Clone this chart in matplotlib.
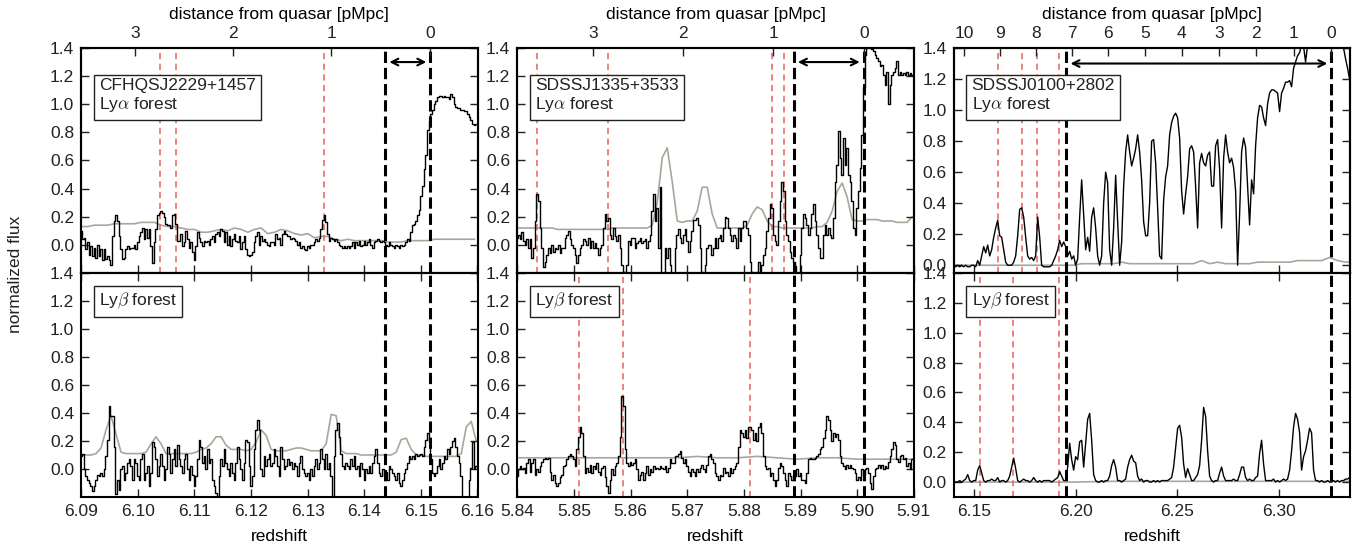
import numpy as np
import matplotlib.pyplot as plt

plt.rcParams['font.family'] = ['Liberation Sans', 'DejaVu Sans']
plt.rcParams['mathtext.fontset'] = 'cm'
plt.rcParams['font.size'] = 12
plt.rcParams['text.color'] = '#222222'
plt.rcParams['xtick.color'] = '#222222'
plt.rcParams['ytick.color'] = '#222222'

# ---------------- data (flux sampled on a uniform redshift grid) ----------------
names = ['CFHQSJ2229+1457', 'SDSSJ1335+3533', 'SDSSJ0100+2802']
z_qso = [6.1517, 5.9012, 6.3258]
z_edge = [6.1437, 5.8888, 6.1954]      # start of the near zone (left dashed line)
xlims = [(6.09, 6.16), (5.84, 5.91), (6.14, 6.335)]
xticks = [[6.09, 6.10, 6.11, 6.12, 6.13, 6.14, 6.15, 6.16],
          [5.84, 5.85, 5.86, 5.87, 5.88, 5.89, 5.90, 5.91],
          [6.15, 6.20, 6.25, 6.30]]
dist_ticks = [[0, 1, 2, 3], [0, 1, 2, 3], [0, 1, 2, 3, 4, 5, 6, 7, 8, 9, 10]]
ylims_top = [(-0.2, 1.4), (-0.2, 1.4), (-0.05, 1.4)]
ylims_bot = [(-0.2, 1.4), (-0.2, 1.4), (-0.1, 1.4)]
steps = ['steps-mid', 'steps-mid', 'default']

# red marked redshifts
red_top = [[6.1040, 6.1067, 6.1329],
           [5.8435, 5.8560, 5.8850, 5.8870],
           [6.1620, 6.1734, 6.1810, 6.1918]]
red_bot = [[],
           [5.8509, 5.8586, 5.8810],
           [6.1529, 6.1690, 6.1918]]

# column 1 : CFHQSJ2229+1457
lya1_range = (6.09, 6.15978)
lya1_flux = [
    0.10, 0.04, 0.05, -0.03, 0.02, -0.07, -0.01, -0.08, -0.02, -0.09, 0.00, -0.08, -0.03, -0.11, -0.03, -0.10, -0.08, -0.11,
    -0.14, 0.06, 0.17, 0.21, 0.17, 0.06, -0.03, -0.10, -0.09, -0.03, -0.01, -0.03, -0.02, -0.02, 0.00, -0.03, 0.02, 0.06, 0.09, 0.12, 0.04, 0.11,
    0.05, 0.11, -0.01, -0.13, 0.02, 0.11, 0.21, 0.23, 0.24, 0.23, 0.20, 0.15, 0.14, 0.14, 0.12, 0.21, 0.22, 0.15, 0.03, 0.03,
    0.08, -0.01, 0.02, 0.10, 0.04, -0.02, 0.02, -0.05, -0.11, -0.01, 0.09, 0.05, 0.02, -0.01, 0.03, 0.02, 0.03, 0.00, 0.04, 0.06,
    0.02, 0.08, 0.09, 0.06, 0.11, 0.10, 0.02, 0.09, 0.00, 0.06, -0.01, 0.04, 0.08, 0.03, 0.02, 0.06, -0.03, 0.02, 0.06, -0.03,
    -0.07, -0.08, -0.07, -0.05, 0.02, 0.06, 0.09, 0.00, 0.06, 0.03, 0.04, 0.02, 0.00, -0.01, 0.02, 0.02, 0.00, 0.08, 0.04, 0.05,
    0.00, 0.08, 0.10, 0.08, 0.06, 0.06, 0.04, 0.05, 0.04, 0.03, 0.00, 0.02, -0.02, -0.01, -0.03, -0.04, -0.01, -0.02, 0.00, 0.00,
    0.02, 0.04, 0.03, 0.05, 0.11, 0.18, 0.21, 0.16, 0.08, 0.03, 0.05, 0.04, 0.03, 0.04, 0.02, 0.00, -0.01, -0.02, -0.01, -0.02,
    -0.01, -0.02, -0.01, 0.02, -0.02, 0.02, 0.00, 0.03, -0.01, 0.00, 0.03, 0.00, 0.02, 0.04, 0.00, -0.02, 0.02, 0.03, 0.04, 0.03,
    0.02, 0.03, 0.02, 0.00, -0.01, 0.02, 0.00, -0.01, -0.02, 0.00, -0.01, -0.02, 0.00, -0.01, 0.00, 0.02, 0.04, 0.03, 0.09, 0.14,
    0.15, 0.17, 0.21, 0.25, 0.35, 0.42, 0.54, 0.64, 0.82, 0.88, 0.93, 0.96, 1.00, 1.02, 1.05, 1.06, 1.06, 1.05, 1.06, 1.05,
    1.05, 1.04, 1.07, 1.05, 1.00, 0.98, 0.97, 0.97, 0.96, 0.96, 0.95, 0.95, 0.93, 0.91, 0.89, 0.86, 0.85, 0.86]
lya1_err_range = (6.09, 6.15948)
lya1_err = [0.13, 0.13, 0.14, 0.14, 0.14, 0.15, 0.15, 0.15, 0.15, 0.16, 0.16, 0.16, 0.14, 0.13, 0.13,
            0.12, 0.11, 0.11, 0.09, 0.09, 0.10, 0.11, 0.10, 0.12, 0.11, 0.09, 0.11, 0.12, 0.08, 0.09,
            0.11, 0.10, 0.08, 0.07, 0.08, 0.05, 0.06, 0.06, 0.04, 0.03, 0.04, 0.03, 0.03, 0.03, 0.03,
            0.03, 0.02, 0.02, 0.02, 0.03, 0.03, 0.03, 0.03, 0.04, 0.04, 0.04, 0.04, 0.04, 0.04, 0.04]
lyb1_range = (6.09, 6.15978)
lyb1_flux = [
    0.09, 0.11, 0.00, -0.05, -0.08, -0.10, -0.12, -0.16, -0.12, -0.08, -0.04, -0.05, -0.03, -0.05, 0.00, 0.09, 0.21, 0.45, 0.38, 0.38,
    0.16, -0.18, -0.08, -0.15, 0.00, 0.02, -0.08, -0.03, 0.04, 0.07, 0.02, -0.08, 0.07, 0.04, -0.05, -0.08, 0.07, 0.11, -0.08, -0.03,
    0.02, -0.12, -0.03, 0.19, 0.16, 0.07, -0.05, 0.02, 0.11, 0.02, -0.08, 0.00, 0.16, 0.11, -0.03, 0.07, 0.14, 0.02, 0.17, 0.07,
    0.02, -0.03, 0.07, 0.11, 0.00, -0.08, 0.02, -0.04, -0.12, -0.05, 0.07, 0.21, 0.16, 0.04, 0.09, 0.00, 0.14, 0.04, 0.07, -0.08,
    -0.12, -0.17, -0.20, -0.05, 0.07, 0.02, 0.14, 0.04, 0.00, -0.05, 0.04, -0.03, -0.08, 0.04, 0.16, 0.07, 0.00, -0.08, 0.04, 0.21,
    0.19, 0.02, -0.12, -0.05, 0.14, 0.28, 0.35, 0.28, 0.00, -0.05, 0.09, 0.02, 0.07, 0.11, 0.02, 0.04, 0.14, 0.09, 0.02, -0.05,
    0.16, 0.07, 0.00, 0.02, 0.07, 0.03, 0.05, 0.00, 0.04, 0.02, -0.05, 0.04, 0.09, 0.00, -0.03, -0.05, -0.03, -0.08, 0.00, -0.05,
    0.02, 0.07, 0.00, 0.04, 0.14, 0.07, 0.00, 0.11, 0.00, 0.04, -0.05, -0.20, 0.09, 0.28, 0.33, 0.23, 0.11, 0.02, 0.00, 0.04,
    0.02, 0.00, 0.07, 0.02, 0.09, 0.00, 0.02, -0.05, 0.04, 0.00, -0.08, 0.00, -0.03, 0.02, -0.03, 0.04, 0.09, 0.14, 0.04, -0.03,
    -0.05, 0.00, -0.05, -0.02, -0.08, 0.02, 0.00, -0.03, -0.05, -0.08, -0.03, -0.10, -0.12, -0.08, -0.03, 0.00, 0.04, 0.09, 0.07, 0.09,
    0.07, 0.11, 0.09, 0.10, 0.11, 0.09, 0.16, 0.21, 0.26, 0.19, 0.07, -0.03, -0.05, -0.03, 0.02, 0.07, 0.00, 0.04, 0.09, 0.07,
    0.14, 0.11, 0.16, 0.20, 0.22, 0.16, 0.09, 0.04, -0.05, -0.20, -0.20, -0.20, -0.20, -0.08, 0.01, 0.19, 0.00, 0.02]
lyb1_err_range = (6.09, 6.15978)
lyb1_err = [0.10, 0.10, 0.10, 0.11, 0.15, 0.28, 0.38, 0.25, 0.12, 0.11, 0.11, 0.11, 0.11, 0.12, 0.18, 0.23,
            0.18, 0.11, 0.11, 0.11, 0.11, 0.11, 0.11, 0.12, 0.14, 0.15, 0.18, 0.23, 0.23, 0.17, 0.14, 0.14,
            0.14, 0.13, 0.14, 0.19, 0.28, 0.24, 0.14, 0.13, 0.13, 0.13, 0.14, 0.15, 0.15, 0.14, 0.13, 0.13,
            0.13, 0.18, 0.39, 0.38, 0.13, 0.11, 0.11, 0.11, 0.10, 0.10, 0.10, 0.10, 0.10, 0.10, 0.10, 0.12,
            0.21, 0.22, 0.14, 0.10, 0.10, 0.09, 0.09, 0.09, 0.09, 0.09, 0.09, 0.09, 0.11, 0.30, 0.34, 0.20]

# column 2 : SDSSJ1335+3533
lya2_range = (5.84, 5.91)
lya2_flux = [
    0.05, 0.07, 0.04, 0.09, 0.03, 0.00, 0.04, -0.02, 0.04, -0.09, -0.02, 0.17, 0.36, 0.31, 0.12, -0.02, -0.16, -0.12, -0.07, -0.02,
    -0.06, 0.00, -0.05, -0.02, -0.03, 0.00, -0.06, -0.02, -0.02, 0.05, 0.07, 0.10, 0.04, 0.00, -0.02, -0.07, -0.13, -0.07, -0.02, 0.00,
    0.04, 0.03, 0.00, 0.05, -0.02, 0.03, -0.02, 0.01, -0.02, -0.07, -0.02, 0.00, 0.12, 0.22, 0.17, 0.19, 0.07, 0.04, 0.12, 0.06,
    0.03, 0.07, -0.02, -0.14, -0.19, -0.21, -0.14, 0.03, 0.00, 0.05, 0.05, -0.02, 0.01, 0.03, 0.05, 0.01, 0.03, 0.04, -0.02, 0.03,
    0.07, 0.24, 0.36, 0.17, 0.26, -0.02, 0.41, -0.21, -0.21, -0.02, -0.09, -0.02, -0.14, -0.21, -0.21, -0.02, 0.07, 0.11, 0.05, 0.01,
    0.07, 0.11, 0.03, -0.05, 0.03, 0.10, 0.18, 0.18, 0.19, 0.14, -0.02, -0.19, -0.21, -0.14, -0.02, 0.00, 0.00, -0.07, -0.02, 0.05,
    -0.02, 0.05, 0.07, 0.03, 0.12, 0.20, 0.19, 0.12, 0.07, 0.03, 0.07, 0.05, -0.02, 0.12, 0.03, 0.12, 0.17, 0.17, 0.12, 0.07,
    -0.12, -0.19, -0.21, -0.21, -0.19, -0.12, -0.21, -0.14, -0.07, -0.02, 0.10, 0.19, 0.29, 0.26, 0.07, 0.03, 0.00, 0.17, 0.31, 0.45,
    0.38, 0.17, 0.07, 0.03, -0.05, -0.09, -0.12, -0.15, -0.21, -0.21, -0.07, 0.12, 0.22, 0.19, 0.14, 0.07, 0.12, 0.22, 0.29, 0.17,
    0.07, -0.02, -0.09, -0.09, 0.07, 0.14, 0.07, 0.12, 0.07, 0.05, 0.19, 0.45, 0.57, 0.81, 0.62, 0.50, 0.76, 0.57, 0.69, 0.50,
    0.45, 0.31, 0.12, 0.07, 0.26, 0.38, 0.55, 0.78, 1.12, 1.35, 1.40, 1.42, 1.40, 1.39, 1.38, 1.35, 1.33, 1.31, 1.27, 1.28,
    1.21, 1.14, 1.23, 1.00, 1.14, 1.21, 1.23, 1.26, 1.31, 1.21, 1.23, 1.21, 1.22, 1.21, 1.23, 1.21, 1.22, 1.21, 1.21]
lya2_err_range = (5.84, 5.9097)
lya2_err = [0.12, 0.12, 0.12, 0.12, 0.12, 0.12, 0.12, 0.12, 0.11, 0.11, 0.11, 0.11, 0.11, 0.11, 0.11, 0.11,
            0.11, 0.11, 0.11, 0.12, 0.12, 0.12, 0.12, 0.12, 0.12, 0.12, 0.12, 0.14, 0.30, 0.62, 0.69, 0.45,
            0.17, 0.16, 0.17, 0.17, 0.24, 0.41, 0.41, 0.22, 0.12, 0.12, 0.12, 0.12, 0.12, 0.12, 0.14, 0.22,
            0.27, 0.25, 0.17, 0.13, 0.13, 0.12, 0.12, 0.12, 0.12, 0.12, 0.12, 0.12, 0.13, 0.13, 0.16, 0.24,
            0.38, 0.44, 0.34, 0.18, 0.17, 0.17, 0.18, 0.18, 0.18, 0.17, 0.17, 0.17, 0.16, 0.16, 0.16, 0.20]
lyb2_range = (5.84, 5.91)
lyb2_flux = [
    -0.05, 0.00, 0.02, 0.00, 0.01, -0.03, 0.04, 0.07, -0.02, 0.04, 0.07, -0.04, 0.00, -0.02, 0.02, 0.05, 0.07, 0.08, 0.07, 0.08,
    -0.02, -0.08, -0.04, -0.10, -0.12, -0.10, -0.06, -0.04, 0.02, 0.03, 0.07, 0.09, 0.11, 0.09, 0.07, 0.02, 0.14, 0.23, 0.30, 0.26,
    0.09, -0.03, 0.01, -0.02, 0.03, -0.03, 0.02, 0.00, 0.04, -0.02, -0.04, 0.01, 0.02, -0.06, -0.12, -0.17, -0.08, 0.00, -0.04, 0.02,
    0.04, 0.09, 0.23, 0.52, 0.45, 0.14, 0.04, 0.02, 0.05, 0.03, 0.04, 0.07, 0.00, -0.08, -0.04, -0.02, -0.08, -0.03, 0.02, -0.04,
    0.00, -0.02, 0.02, 0.00, 0.01, 0.00, 0.02, 0.01, 0.00, 0.02, -0.02, 0.01, 0.07, 0.04, 0.04, 0.09, 0.09, 0.11, 0.13, 0.08,
    0.04, 0.07, 0.02, -0.02, -0.05, 0.00, -0.02, -0.05, 0.00, -0.02, 0.01, 0.03, 0.00, -0.02, 0.03, 0.09, 0.11, 0.07, 0.04, -0.03,
    -0.05, -0.08, -0.04, -0.05, 0.01, -0.03, -0.02, -0.05, 0.01, -0.03, 0.00, 0.02, 0.04, 0.16, 0.28, 0.26, 0.23, 0.28, 0.22, 0.30,
    0.30, 0.28, 0.21, 0.26, 0.20, 0.30, 0.33, 0.26, 0.09, 0.02, 0.00, 0.01, -0.05, -0.03, -0.08, -0.12, -0.08, 0.01, 0.04, 0.02,
    -0.03, -0.08, -0.12, -0.03, -0.05, -0.08, -0.04, -0.05, 0.00, -0.05, -0.03, -0.08, -0.08, -0.10, -0.03, 0.07, 0.08, 0.07, 0.07, 0.08,
    0.09, 0.11, 0.14, 0.16, 0.22, 0.28, 0.38, 0.35, 0.28, 0.20, 0.26, 0.23, 0.25, 0.21, 0.09, 0.04, 0.02, 0.00, 0.03, 0.01,
    0.03, 0.01, 0.00, -0.03, -0.08, -0.06, -0.08, 0.00, -0.04, 0.00, 0.01, -0.03, -0.10, -0.14, -0.05, 0.00, 0.01, 0.03, 0.01, 0.03,
    0.00, 0.02, 0.01, 0.05, 0.09, 0.14, 0.19, 0.17, 0.07, 0.05, 0.09, 0.10, 0.07, 0.08, 0.02, 0.04, 0.00, 0.07, 0.08]
lyb2_err_range = (5.84, 5.91058)
lyb2_err = [0.08, 0.08, 0.08, 0.08, 0.08, 0.08, 0.08, 0.08, 0.08, 0.09, 0.08,
            0.08, 0.09, 0.08, 0.07, 0.08, 0.08, 0.07, 0.07, 0.07, 0.07]

# column 3 : SDSSJ0100+2802
lya3_range = (6.14, 6.33469)
lya3_flux = [
    0.00, -0.01, 0.00, -0.01, 0.00, -0.01, 0.00, -0.01, -0.01, 0.00, 0.00, -0.01, 0.03, 0.00, 0.06, 0.12, 0.08, 0.13, 0.06, 0.10,
    0.18, 0.24, 0.29, 0.19, 0.18, 0.10, 0.02, 0.00, 0.00, 0.00, 0.02, 0.06, 0.19, 0.36, 0.37, 0.31, 0.18, 0.06, 0.04, 0.05,
    0.03, 0.06, 0.31, 0.18, 0.00, -0.01, -0.01, -0.01, -0.01, 0.00, 0.03, 0.06, 0.10, 0.16, 0.12, 0.15, 0.12, 0.06, 0.09, 0.04,
    0.06, 0.00, 0.04, 0.31, 0.55, 0.33, 0.10, 0.18, 0.09, 0.31, 0.37, 0.24, 0.06, 0.00, 0.06, 0.40, 0.60, 0.53, 0.10, 0.00,
    0.24, 0.58, 0.28, 0.00, 0.15, 0.51, 0.73, 0.84, 0.73, 0.64, 0.69, 0.75, 0.84, 0.73, 0.55, 0.28, 0.19, 0.19, 0.40, 0.80,
    0.81, 0.66, 0.37, 0.06, 0.04, 0.42, 0.57, 0.64, 0.84, 0.92, 0.96, 0.98, 0.95, 0.82, 0.48, 0.33, 0.46, 0.57, 0.75, 0.77,
    0.73, 0.51, 0.24, 0.66, 0.72, 0.66, 0.64, 0.71, 0.73, 0.51, 0.51, 0.77, 0.81, 0.62, 0.24, 0.69, 0.84, 0.73, 0.66, 0.69,
    0.63, 0.48, 0.00, 0.33, 0.73, 0.82, 0.76, 0.51, 0.26, 0.55, 0.46, 0.77, 0.95, 1.03, 1.02, 0.95, 0.90, 1.04, 1.11, 1.13,
    1.13, 1.12, 1.11, 0.99, 1.11, 1.14, 1.18, 1.18, 1.19, 1.15, 1.27, 1.31, 1.35, 1.37, 1.42, 1.41, 1.31, 1.42, 1.44, 1.50,
    1.50, 1.50, 1.50, 1.50, 1.50, 1.50, 1.50, 1.50, 1.50, 1.50, 1.50, 1.45, 1.45, 1.44, 1.42, 1.40, 1.33, 1.27, 1.20]
lya3_err_range = (6.14, 6.33666)
lya3_err = [0.00, 0.00, 0.00, 0.00, 0.00, 0.00, 0.00, 0.00, 0.00, 0.00, 0.00, 0.00, 0.00, 0.00, 0.00, 0.00,
            0.01, 0.01, 0.01, 0.01, 0.01, 0.02, 0.01, 0.01, 0.01, 0.01, 0.01, 0.01, 0.01, 0.01, 0.01, 0.03,
            0.01, 0.02, 0.01, 0.01, 0.01, 0.01, 0.02, 0.02, 0.02, 0.02, 0.02, 0.03, 0.03, 0.03, 0.03, 0.05,
            0.03, 0.02, 0.02]
lyb3_range = (6.14, 6.33469)
lyb3_flux = [
    0.00, 0.00, 0.00, 0.01, 0.00, 0.01, 0.02, 0.05, 0.01, 0.00, 0.01, 0.01, 0.08, 0.11, 0.06, 0.01, 0.00, 0.01, 0.01, 0.02,
    0.01, 0.01, 0.03, 0.00, 0.01, 0.01, 0.00, 0.01, 0.04, 0.10, 0.16, 0.09, 0.01, 0.00, 0.01, 0.02, 0.01, 0.01, 0.00, 0.01,
    0.03, 0.01, 0.00, 0.01, 0.00, 0.01, 0.01, 0.01, 0.01, 0.00, 0.01, 0.02, 0.03, 0.07, 0.04, 0.01, 0.01, 0.10, 0.26, 0.15,
    0.08, 0.17, 0.15, 0.27, 0.28, 0.10, 0.26, 0.42, 0.46, 0.28, 0.05, 0.01, 0.00, 0.00, 0.01, 0.00, 0.01, 0.01, 0.04, 0.11,
    0.15, 0.10, 0.01, 0.01, 0.00, 0.01, 0.02, 0.10, 0.15, 0.18, 0.14, 0.13, 0.04, 0.01, 0.02, 0.00, 0.01, 0.01, 0.00, 0.00,
    0.01, 0.00, 0.01, 0.00, 0.01, 0.01, 0.01, 0.01, 0.02, 0.03, 0.10, 0.23, 0.36, 0.38, 0.30, 0.12, 0.03, 0.09, 0.05, 0.01,
    0.01, 0.03, 0.05, 0.11, 0.28, 0.50, 0.44, 0.21, 0.04, 0.01, 0.00, 0.01, 0.01, 0.06, 0.10, 0.04, 0.01, 0.01, 0.01, 0.01,
    0.02, 0.01, 0.01, 0.05, 0.10, 0.10, 0.03, 0.01, 0.02, 0.01, 0.01, 0.03, 0.04, 0.19, 0.28, 0.12, 0.01, 0.01, 0.01, 0.01,
    0.02, 0.00, 0.01, 0.00, 0.01, 0.02, 0.01, 0.02, 0.08, 0.21, 0.37, 0.46, 0.42, 0.33, 0.08, 0.17, 0.21, 0.28, 0.36, 0.33,
    0.08, 0.01, 0.01, 0.00, 0.01, 0.00, 0.00, 0.01, 0.00, 0.00, 0.01, 0.00, 0.01, 0.00, 0.01, 0.01, 0.02, 0.02, 0.03]
lyb3_err_range = (6.14, 6.33666)
lyb3_err = [0.00, 0.00, 0.00, 0.00, 0.005, 0.005, 0.005, 0.005, 0.005, 0.005, 0.005]

top_data = [(lya1_range, lya1_flux, lya1_err_range, lya1_err),
            (lya2_range, lya2_flux, lya2_err_range, lya2_err),
            (lya3_range, lya3_flux, lya3_err_range, lya3_err)]
bot_data = [(lyb1_range, lyb1_flux, lyb1_err_range, lyb1_err),
            (lyb2_range, lyb2_flux, lyb2_err_range, lyb2_err),
            (lyb3_range, lyb3_flux, lyb3_err_range, lyb3_err)]

# ---------------- helpers ----------------
H0, Om, c_kms = 70.0, 0.3, 299792.458


def z_of_distance(zq, dists):
    # proper line-of-sight distance (pMpc) from the quasar -> redshift
    zz = np.linspace(zq, zq - 0.3, 3001)
    integrand = c_kms / ((1 + zz) * H0 * np.sqrt(Om * (1 + zz) ** 3 + 1 - Om))
    d = np.concatenate([[0.0], np.cumsum(0.5 * (integrand[1:] + integrand[:-1]) * np.abs(np.diff(zz)))])
    return np.interp(dists, d, zz)


def draw(ax, data, reds, zq, ze, ds):
    (z0, z1), flux, (e0, e1), err = data
    ax.plot(np.linspace(e0, e1, len(err)), err, color='#a9a699', lw=1.2, zorder=1)
    ax.plot(np.linspace(z0, z1, len(flux)), flux, color='k', lw=1.0, drawstyle=ds, zorder=2)
    for zr in reds:
        ax.axvline(zr, color='#e8605a', lw=1.1, dashes=(4, 3), zorder=1.5)
    for zl in (ze, zq):
        ax.axvline(zl, color='k', lw=2.2, ls='--', zorder=3)


def style(ax):
    for s in ax.spines.values():
        s.set_linewidth(1.5)
    ax.tick_params(direction='in', length=6, width=1, labelsize=12.5, pad=5)


fig = plt.figure(figsize=(13.67, 5.48), dpi=100)
lefts = [81 / 1367, 517.3 / 1367, 953.7 / 1367]
width = 396.5 / 1367
top_y, top_h = 1 - 273 / 548, 225 / 548
bot_y, bot_h = 1 - 497 / 548, 224 / 548
yt = [0.0, 0.2, 0.4, 0.6, 0.8, 1.0, 1.2, 1.4]

for i in range(3):
    axt = fig.add_axes([lefts[i], top_y, width, top_h])
    axb = fig.add_axes([lefts[i], bot_y, width, bot_h], sharex=axt)

    draw(axt, top_data[i], red_top[i], z_qso[i], z_edge[i], steps[i])
    draw(axb, bot_data[i], red_bot[i], z_qso[i], z_edge[i], steps[i])

    axt.set_xlim(*xlims[i])
    axt.set_ylim(*ylims_top[i])
    axb.set_ylim(*ylims_bot[i])
    for a in (axt, axb):
        a.set_yticks(yt)
        a.set_yticklabels(['%.1f' % v for v in yt])
    axb.set_xticks(xticks[i])
    axb.set_xticklabels(['%.2f' % v for v in xticks[i]])
    axb.set_xlabel('redshift', fontsize=12.5, labelpad=7)

    style(axt)
    style(axb)
    axt.tick_params(right=True, top=False, labelbottom=False)
    axb.tick_params(right=True, top=True)

    # distance axis on top
    twin = axt.twiny()
    twin.set_xlim(*xlims[i])
    twin.set_xticks(z_of_distance(z_qso[i], dist_ticks[i]))
    twin.set_xticklabels([str(d) for d in dist_ticks[i]])
    twin.tick_params(direction='in', length=6, width=1, labelsize=12.5, pad=5)
    twin.set_xlabel('distance from quasar [pMpc]', fontsize=12.5, labelpad=5)
    for s in twin.spines.values():
        s.set_linewidth(1.5)

    # near-zone arrow
    axt.annotate('', xy=(z_qso[i], 1.3), xytext=(z_edge[i], 1.3),
                 arrowprops=dict(arrowstyle='<->', color='k', lw=1.5, shrinkA=3, shrinkB=3))

    box = dict(boxstyle='square,pad=0.3', fc='white', ec='#222222', lw=1)
    axt.text(0.045, 0.865, names[i] + '\nLy$\\alpha$ forest', transform=axt.transAxes,
             va='top', ha='left', fontsize=12.5, linespacing=1.15, bbox=box, zorder=5)
    axb.text(0.045, 0.92, 'Ly$\\beta$ forest', transform=axb.transAxes,
             va='top', ha='left', fontsize=12.5, bbox=box, zorder=5)

fig.text(0.011, 0.5, 'normalized flux', rotation=90, va='center', ha='center', fontsize=12.5)

fig.savefig('out.png', dpi=100)
